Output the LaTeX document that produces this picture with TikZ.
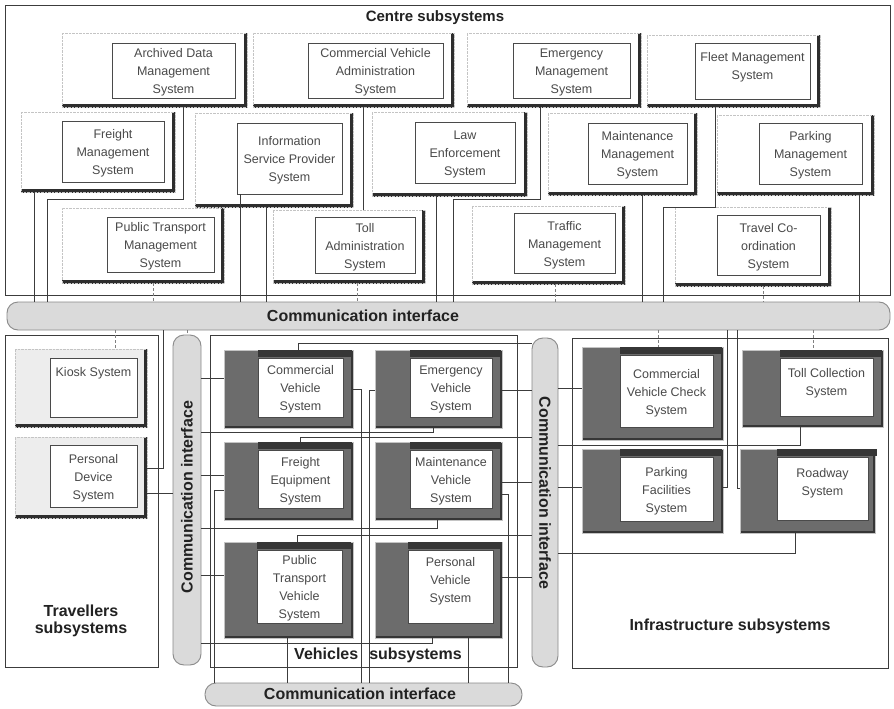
\documentclass[tikz,border=0pt]{standalone}
\usepackage{fontspec}
\setmainfont{Liberation Sans}
\usetikzlibrary{fit}

\definecolor{framec}{HTML}{C4C4C4}
\definecolor{shadowc}{HTML}{2E2E2E}
\definecolor{boxtext}{HTML}{4A4A4A}
\definecolor{linec}{HTML}{3C3C3C}
\definecolor{barfill}{HTML}{DADADA}
\definecolor{bardraw}{HTML}{8A8A8A}
\definecolor{vfill}{HTML}{6C6C6C}
\definecolor{vdark}{HTML}{363636}
\definecolor{tfill}{HTML}{EDEDED}
\definecolor{headc}{HTML}{222222}

\tikzset{
  subarea/.style={draw=linec, line width=0.8pt, inner sep=0pt},
  cframe/.style={draw=framec, densely dotted, fill=white, inner sep=0pt,
    path picture={\draw[shadowc, solid, line width=7pt]
      (path picture bounding box.north east) -- (path picture bounding box.south east)
      -- (path picture bounding box.south west);}},
  tframe/.style={cframe, fill=tfill},
  cbox/.style={draw=boxtext, line width=0.9pt, fill=white, inner sep=0pt},
  boxlabel/.style={inner sep=0pt, yshift=-2pt, align=center, text=boxtext, font=\fontsize{12.5}{18}\selectfont},
  vframe/.style={draw=framec, line width=0.6pt, fill=vfill, inner sep=0pt,
    path picture={\draw[vdark, line width=4pt]
      (path picture bounding box.north east) -- (path picture bounding box.south east)
      -- (path picture bounding box.south west);}},
  vbox/.style={cbox, append after command={\pgfextra{\fill[vdark]
      ([yshift=0.5pt]\tikzlastnode.north west) rectangle
      ([xshift=9pt,yshift=8pt]\tikzlastnode.north east);}}},
  bar/.style={draw=bardraw, line width=0.9pt, fill=barfill, rounded corners=11pt, inner sep=0pt},
  heading/.style={text=headc, align=center, font=\bfseries\fontsize{16}{17}\selectfont},
  link/.style={draw=linec, line width=0.8pt},
  droplink/.style={draw=gray, line width=0.9pt, dash pattern=on 3pt off 2pt}
}

\begin{document}
\begin{tikzpicture}[x=1pt, y=-1pt]

    % 1. Canvas
    \useasboundingbox[fill=white] (0,0) rectangle (894,709);

    % 2. Subsystem areas
    \node[subarea, fit={(5,5) (890,295)}] (centre) {};
    \node[subarea, fit={(5,335) (158,667)}] (travellers) {};
    \node[subarea, fit={(210,335) (517,667)}] (vehicles) {};
    \node[subarea, fit={(572,338) (888,668)}] (infra) {};

    \node[heading, font=\bfseries\fontsize{15}{17}\selectfont] (centrelbl) at (435,18) {Centre subsystems};
    \node[heading] (travlbl) at (81,621) {Travellers\\subsystems};
    \node[heading] (vehlbl) at (378,655) {Vehicles\hspace{11pt}subsystems};
    \node[heading] (infralbl) at (730,626) {Infrastructure subsystems};

    % 3. Communication interfaces
    \node[bar, fit={(7,302) (890,330)}] (topbar) {};
    \node[bar, fit={(173,335) (201,665)}] (leftbar) {};
    \node[bar, fit={(532,338) (558,667)}] (rightbar) {};
    \node[bar, fit={(205,683) (522,706)}] (botbar) {};

    \node[heading] (toplbl) at (363,316) {Communication interface};
    \node[heading, rotate=90] (leftlbl) at (187,497) {Communication interface};
    \node[heading, rotate=-90] (rightlbl) at (545,493) {Communication interface};
    \node[heading] (botlbl) at (360,694) {Communication interface};

    % 4. Centre subsystems, row 1
    \node[cframe, fit={(62,33) (247,107)}] (adm) {};
    \node[cbox, fit={(112,43) (235,98)}] (t-adm) {};
    \node[boxlabel] (l-adm) at (t-adm) {Archived Data\\Management\\System};
    \node[cframe, fit={(253,33) (454,107)}] (cva) {};
    \node[cbox, fit={(308,43) (443,98)}] (t-cva) {};
    \node[boxlabel] (l-cva) at (t-cva) {Commercial Vehicle\\Administration\\System};
    \node[cframe, fit={(467,33) (641,107)}] (em) {};
    \node[cbox, fit={(513,43) (630,98)}] (t-em) {};
    \node[boxlabel] (l-em) at (t-em) {Emergency\\Management\\System};
    \node[cframe, fit={(647,35) (820,107)}] (fleet) {};
    \node[cbox, fit={(695,43) (810,99)}] (t-fleet) {};
    \node[boxlabel] (l-fleet) at ([yshift=6pt]t-fleet.center) {Fleet Management\\System};

    % 5. Centre subsystems, row 2
    \node[cframe, fit={(21,112) (175,192)}] (fm) {};
    \node[cbox, fit={(62,121) (164,182)}] (t-fm) {};
    \node[boxlabel] (l-fm) at (t-fm) {Freight\\Management\\System};
    \node[cframe, fit={(195,113) (353,207)}] (isp) {};
    \node[cbox, fit={(237,123) (342,194)}] (t-isp) {};
    \node[boxlabel] (l-isp) at (t-isp) {Information\\Service Provider\\System};
    \node[cframe, fit={(372,112) (527,196)}] (le) {};
    \node[cbox, fit={(415,122) (515,183)}] (t-le) {};
    \node[boxlabel] (l-le) at (t-le) {Law\\Enforcement\\System};
    \node[cframe, fit={(548,113) (697,195)}] (mm) {};
    \node[cbox, fit={(588,123) (687,184)}] (t-mm) {};
    \node[boxlabel] (l-mm) at (t-mm) {Maintenance\\Management\\System};
    \node[cframe, fit={(717,115) (874,195)}] (pm) {};
    \node[cbox, fit={(759,123) (862,184)}] (t-pm) {};
    \node[boxlabel] (l-pm) at (t-pm) {Parking\\Management\\System};

    % 6. Centre subsystems, row 3
    \node[cframe, fit={(62,208) (224,283)}] (ptm) {};
    \node[cbox, fit={(107,217) (214,272)}] (t-ptm) {};
    \node[boxlabel] (l-ptm) at (t-ptm) {Public Transport\\Management\\System};
    \node[cframe, fit={(273,210) (425,283)}] (ta) {};
    \node[cbox, fit={(315,217) (415,273)}] (t-ta) {};
    \node[boxlabel] (l-ta) at (t-ta) {Toll\\Administration\\System};
    \node[cframe, fit={(472,206) (625,284)}] (tm) {};
    \node[cbox, fit={(514,213) (615,273)}] (t-tm) {};
    \node[boxlabel] (l-tm) at (t-tm) {Traffic\\Management\\System};
    \node[cframe, fit={(675,207) (831,286)}] (tco) {};
    \node[cbox, fit={(717,215) (820,275)}] (t-tco) {};
    \node[boxlabel] (l-tco) at (t-tco) {Travel Co-\\ordination\\System};

    % 7. Travellers subsystems
    \node[tframe, fit={(15,349) (147,427)}] (kiosk) {};
    \node[cbox, fit={(50,358) (137,417)}] (t-kiosk) {};
    \node[boxlabel] (l-kiosk) at (t-kiosk) {Kiosk System\\\mbox{}\\\mbox{}};
    \node[tframe, fit={(15,437) (147,518)}] (pd) {};
    \node[cbox, fit={(50,445) (137,507)}] (t-pd) {};
    \node[boxlabel] (l-pd) at (t-pd) {Personal\\Device\\System};

    % 8. Vehicles subsystems
    \node[vframe, fit={(224,350) (353,428)}] (cv) {};
    \node[vbox, fit={(258,358) (343,417)}] (t-cv) {};
    \node[boxlabel] (l-cv) at (t-cv) {Commercial\\Vehicle\\System};
    \node[vframe, fit={(375,350) (502,428)}] (ev) {};
    \node[vbox, fit={(410,358) (492,417)}] (t-ev) {};
    \node[boxlabel] (l-ev) at (t-ev) {Emergency\\Vehicle\\System};
    \node[vframe, fit={(224,442) (353,520)}] (fe) {};
    \node[vbox, fit={(258,450) (343,508)}] (t-fe) {};
    \node[boxlabel] (l-fe) at (t-fe) {Freight\\Equipment\\System};
    \node[vframe, fit={(375,442) (502,520)}] (mv) {};
    \node[vbox, fit={(410,450) (492,508)}] (t-mv) {};
    \node[boxlabel] (l-mv) at (t-mv) {Maintenance\\Vehicle\\System};
    \node[vframe, fit={(224,542) (353,638)}] (ptv) {};
    \node[vbox, fit={(257,550) (342,623)}] (t-ptv) {};
    \node[boxlabel] (l-ptv) at (t-ptv) {Public\\Transport\\Vehicle\\System};
    \node[vframe, fit={(375,542) (502,638)}] (pv) {};
    \node[vbox, fit={(408,550) (493,623)}] (t-pv) {};
    \node[boxlabel] (l-pv) at (t-pv) {Personal\\Vehicle\\System\\\mbox{}};

    % 9. Infrastructure subsystems
    \node[vframe, fit={(582,347) (723,440)}] (cvc) {};
    \node[vbox, fit={(620,355) (713,427)}] (t-cvc) {};
    \node[boxlabel] (l-cvc) at (t-cvc) {Commercial\\Vehicle Check\\System};
    \node[vframe, fit={(742,350) (883,427)}] (tc) {};
    \node[vbox, fit={(780,358) (873,416)}] (t-tc) {};
    \node[boxlabel] (l-tc) at ([yshift=6pt]t-tc.center) {Toll Collection\\System};
    \node[vframe, fit={(582,449) (723,533)}] (pf) {};
    \node[vbox, fit={(620,457) (713,521)}] (t-pf) {};
    \node[boxlabel] (l-pf) at (t-pf) {Parking\\Facilities\\System};
    \node[vframe, fit={(740,449) (875,533)}] (rw) {};
    \node[vbox, fit={(777,457) (868,520)}] (t-rw) {};
    \node[boxlabel] (l-rw) at (t-rw) {Roadway\\System\\\mbox{}};

    % 10. Centre subsystems to the top interface
    \draw[link] (fm.south -| 34,0) -- (topbar.north -| 34,0);
    \draw[link] (adm.south -| 183,0) -- ++(0,92) -| (topbar.north -| 47,0);
    \draw[droplink] (ptm.south -| 153,0) -- (topbar.north -| 153,0);
    \draw[link] (t-isp.south -| 240,0) -- (topbar.north -| 240,0);
    \draw[link] (isp.south -| 266,0) -- (topbar.north -| 266,0);
    \draw[link] (cva.south -| 363,0) -- (ta.north -| 363,0);
    \draw[droplink] (ta.south -| 357,0) -- (topbar.north -| 357,0);
    \draw[link] (le.south -| 436,0) -- (topbar.north -| 436,0);
    \draw[link] (em.south -| 540,0) -- ++(0,92) -| (topbar.north -| 453,0);
    \draw[droplink] (tm.south -| 555,0) -- (topbar.north -| 555,0);
    \draw[link] (mm.south -| 642,0) -- (topbar.north -| 642,0);
    \draw[link] (fleet.south -| 715,0) -- ++(0,100) -| (topbar.north -| 663,0);
    \draw[droplink] (tco.south -| 763,0) -- (topbar.north -| 763,0);
    \draw[link] (pm.south -| 859,0) -- (topbar.north -| 859,0);

    % 11. Top interface to travellers and infrastructure
    \draw[droplink] (topbar.south -| 115,0) -- (kiosk.north -| 115,0);
    \draw[link] (topbar.south -| 163,0) |- (pd.east |- 0,468);
    \draw[link] (pd.east |- 0,493) -- (leftbar.west |- 0,493);
    \draw[droplink] (topbar.south -| leftbar.north) -- (leftbar.north);
    \draw[droplink] (topbar.south -| 658,0) -- (cvc.north -| 658,0);
    \draw[droplink] (topbar.south -| 813,0) -- (tc.north -| 813,0);
    \draw[link] (topbar.south -| 727,0) |- (pf.east |- 0,487);
    \draw[link] (topbar.south -| 737,0) |- (rw.west |- 0,488);

    % 12. Vehicles to the side interfaces
    \draw[link] (leftbar.east |- 0,378) -- (cv.west |- 0,378);
    \draw[link] (leftbar.east |- 0,475) -- (fe.west |- 0,475);
    \draw[link] (leftbar.east |- 0,575) -- (ptv.west |- 0,575);
    \draw[link] (cv.north -| 298,0) |- (rightbar.west |- 0,343);
    \draw[link] (fe.north -| 300,0) |- (rightbar.west |- 0,437);
    \draw[link] (ptv.north -| 297,0) |- (rightbar.west |- 0,535);
    \draw[link] (ev.east |- 0,390) -- (rightbar.west |- 0,390);
    \draw[link] (mv.east |- 0,482) -- (rightbar.west |- 0,482);
    \draw[link] (pv.east |- 0,577) -- (rightbar.west |- 0,577);
    \draw[link] (ev.south -| 433,0) |- (leftbar.east |- 0,432);
    \draw[link] (mv.south -| 437,0) |- (leftbar.east |- 0,528);
    \draw[link] (pv.south -| 432,0) |- (leftbar.east |- 0,643);

    % 13. Vehicles to the bottom interface
    \draw[link] (cv.east |- 0,389) -| (botbar.north -| 361,0);
    \draw[link] (ev.west |- 0,390) -| (botbar.north -| 369,0);
    \draw[link] (fe.west |- 0,490) -| (botbar.north -| 214,0);
    \draw[link] (mv.east |- 0,494) -| (botbar.north -| 508,0);
    \draw[link] (ptv.south -| 287,0) -- (botbar.north -| 287,0);
    \draw[link] (pv.south -| 468,0) -- (botbar.north -| 468,0);

    % 14. Infrastructure to the right interface
    \draw[link] (rightbar.east |- 0,388) -- (cvc.west |- 0,388);
    \draw[link] (rightbar.east |- 0,487) -- (pf.west |- 0,487);
    \draw[link] (tc.south -| 800,0) |- (rightbar.east |- 0,445);
    \draw[link] (rw.south -| 795,0) |- (rightbar.east |- 0,553);

\end{tikzpicture}
\end{document}
